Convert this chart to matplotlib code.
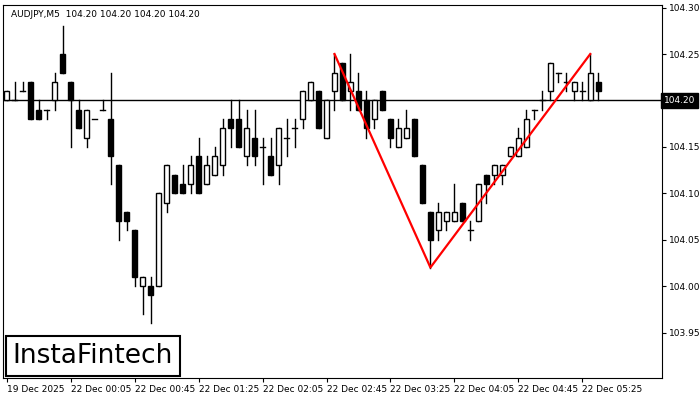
import matplotlib.pyplot as plt
from matplotlib.patches import Rectangle

# candle data
opens = [104.20, 104.20, 104.21, 104.22, 104.19, 104.19, 104.20, 104.25, 104.22, 104.19,
         104.16, 104.18, 104.19, 104.18, 104.13, 104.08, 104.06, 104.00, 104.00, 104.00,
         104.09, 104.12, 104.11, 104.11, 104.14, 104.11, 104.12, 104.13, 104.18, 104.18,
         104.14, 104.16, 104.15, 104.14, 104.13, 104.16, 104.17, 104.18, 104.20, 104.21,
         104.16, 104.21, 104.24, 104.21, 104.21, 104.20, 104.18, 104.21, 104.18, 104.15,
         104.16, 104.18, 104.13, 104.08, 104.06, 104.07, 104.07, 104.09, 104.06, 104.07,
         104.12, 104.12, 104.12, 104.14, 104.14, 104.15, 104.19, 104.20, 104.21, 104.23,
         104.22, 104.21, 104.21, 104.20, 104.22]
closes = [104.21, 104.20, 104.21, 104.18, 104.18, 104.19, 104.22, 104.23, 104.20, 104.17,
          104.19, 104.18, 104.19, 104.14, 104.07, 104.07, 104.01, 104.01, 103.99, 104.10,
          104.13, 104.10, 104.10, 104.13, 104.10, 104.13, 104.14, 104.17, 104.17, 104.15,
          104.17, 104.14, 104.15, 104.12, 104.17, 104.16, 104.17, 104.21, 104.22, 104.17,
          104.20, 104.23, 104.20, 104.22, 104.19, 104.17, 104.20, 104.19, 104.16, 104.17,
          104.17, 104.14, 104.09, 104.05, 104.08, 104.08, 104.08, 104.07, 104.06, 104.11,
          104.11, 104.13, 104.13, 104.15, 104.16, 104.18, 104.19, 104.20, 104.24, 104.23,
          104.22, 104.22, 104.21, 104.23, 104.21]
highs = [104.21, 104.22, 104.22, 104.22, 104.20, 104.19, 104.23, 104.28, 104.22, 104.20,
         104.19, 104.18, 104.20, 104.23, 104.13, 104.08, 104.06, 104.01, 104.01, 104.10,
         104.13, 104.12, 104.13, 104.14, 104.16, 104.14, 104.15, 104.18, 104.20, 104.20,
         104.19, 104.19, 104.16, 104.16, 104.17, 104.18, 104.18, 104.21, 104.22, 104.21,
         104.20, 104.25, 104.24, 104.25, 104.23, 104.21, 104.20, 104.21, 104.18, 104.18,
         104.19, 104.18, 104.13, 104.08, 104.09, 104.08, 104.11, 104.09, 104.07, 104.11,
         104.12, 104.13, 104.13, 104.15, 104.17, 104.19, 104.19, 104.21, 104.24, 104.23,
         104.23, 104.22, 104.22, 104.25, 104.23]
lows = [104.20, 104.20, 104.21, 104.18, 104.18, 104.18, 104.19, 104.23, 104.15, 104.17,
        104.15, 104.18, 104.19, 104.11, 104.05, 104.06, 104.00, 103.97, 103.96, 104.00,
        104.08, 104.10, 104.10, 104.10, 104.10, 104.11, 104.12, 104.12, 104.15, 104.15,
        104.13, 104.13, 104.11, 104.12, 104.11, 104.14, 104.15, 104.17, 104.20, 104.17,
        104.16, 104.19, 104.20, 104.19, 104.19, 104.16, 104.17, 104.19, 104.15, 104.15,
        104.16, 104.14, 104.09, 104.02, 104.05, 104.06, 104.07, 104.07, 104.05, 104.07,
        104.09, 104.11, 104.11, 104.14, 104.14, 104.15, 104.18, 104.19, 104.20, 104.22,
        104.21, 104.20, 104.20, 104.20, 104.20]

# pattern line (candle index, price)
pattern_x = [41, 53, 73]
pattern_y = [104.25, 104.02, 104.25]

tick_pos = [0, 8, 16, 24, 32, 40, 48, 56, 64, 72]
tick_labels = ["19 Dec 2025", "22 Dec 00:05", "22 Dec 00:45", "22 Dec 01:25", "22 Dec 02:05",
               "22 Dec 02:45", "22 Dec 03:25", "22 Dec 04:05", "22 Dec 04:45", "22 Dec 05:25"]
price_ticks = [103.95, 104.00, 104.05, 104.10, 104.15, 104.20, 104.25, 104.30]
last_price = 104.20

fig = plt.figure(figsize=(7, 4), dpi=100)
ax = fig.add_axes([0.004, 0.055, 0.942, 0.933])

w = 0.6
for i in range(len(opens)):
    o, c, h, l = opens[i], closes[i], highs[i], lows[i]
    ax.plot([i, i], [l, h], color='black', lw=1, zorder=2)
    lo = min(o, c)
    hgt = abs(c - o)
    if hgt < 0.001:
        ax.plot([i - w / 2, i + w / 2], [o, o], color='black', lw=1, zorder=3)
    else:
        face = 'white' if c > o else 'black'
        ax.add_patch(Rectangle((i - w / 2, lo), w, hgt, facecolor=face,
                               edgecolor='black', lw=1, zorder=3))

ax.axhline(last_price, color='black', lw=1, zorder=1)
ax.plot(pattern_x, pattern_y, color='red', lw=1.6, zorder=4)

ax.set_xlim(-0.5, 82.0)
ax.set_ylim(103.901, 104.303)

ax.yaxis.tick_right()
ax.set_yticks(price_ticks)
# the 104.20 label is covered by the last-price box
ax.set_yticklabels(["" if abs(p - last_price) < 1e-6 else f"{p:.2f}" for p in price_ticks])
ax.set_xticks(tick_pos)
ax.set_xticklabels(tick_labels, ha='left')
ax.tick_params(labelsize=6.5, length=3, colors='black', pad=2)

ax.text(1.003, last_price, "104.20", transform=ax.get_yaxis_transform(), fontsize=6.5,
        color='white', va='center', ha='left',
        bbox=dict(facecolor='black', edgecolor='black', pad=2))

ax.text(0.012, 0.985, "AUDJPY,M5  104.20 104.20 104.20 104.20", transform=ax.transAxes,
        fontsize=6.5, va='top', ha='left')

ax.text(0.015, 0.025, "InstaFintech", transform=ax.transAxes, fontsize=19,
        va='bottom', ha='left', color='black',
        bbox=dict(facecolor='white', edgecolor='black', lw=1.5, pad=5))

fig.savefig("out.png", dpi=100)
